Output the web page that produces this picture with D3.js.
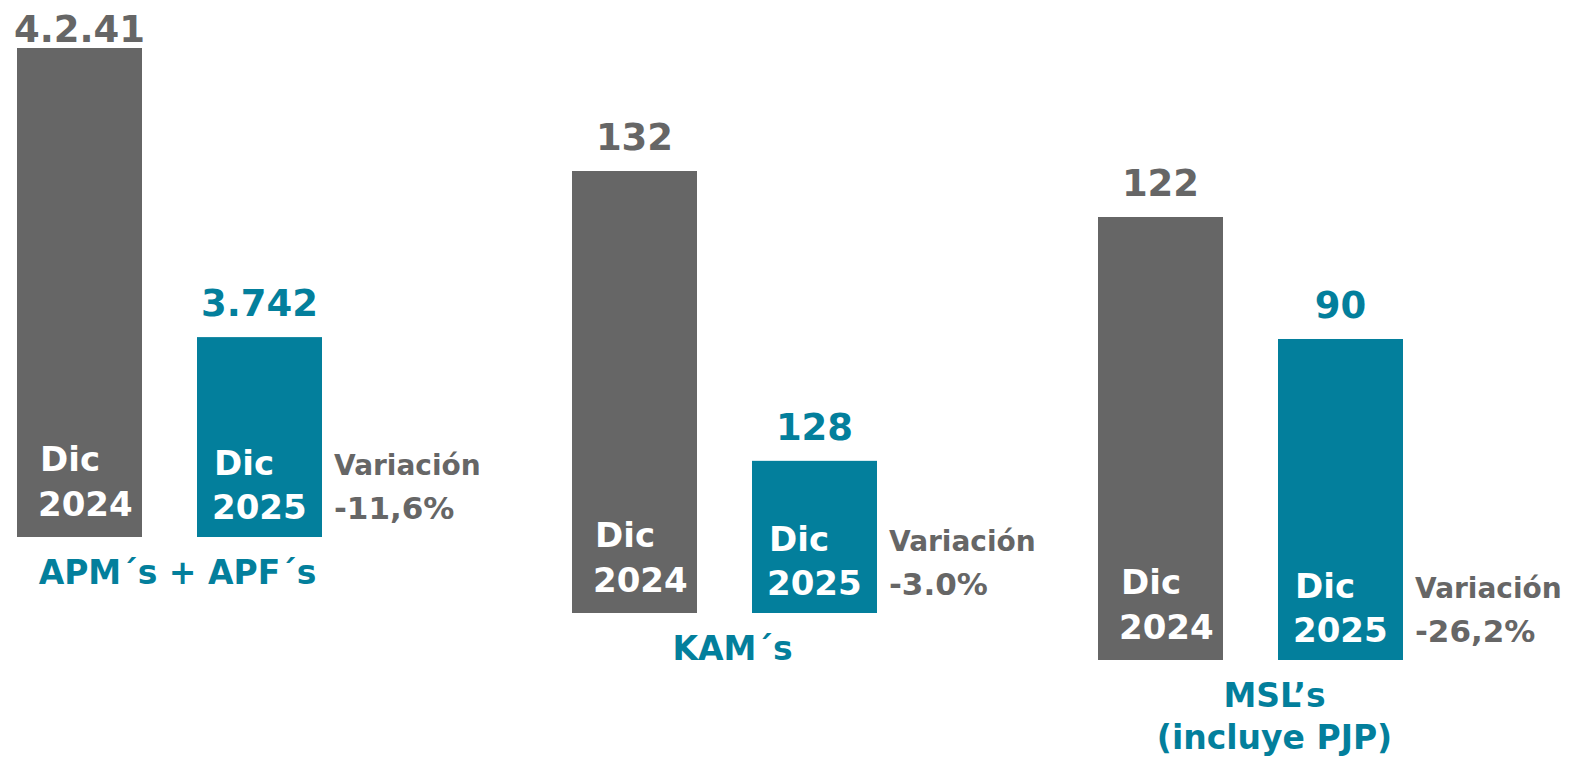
<!DOCTYPE html>
<html>
<head>
<meta charset="utf-8">
<script src="https://cdn.jsdelivr.net/npm/d3@7"></script>
<style>
  html, body { margin: 0; padding: 0; background: #ffffff; }
  svg { display: block; }
  text { font-family: "DejaVu Sans", "Open Sans", sans-serif; font-weight: bold; }
</style>
</head>
<body>
<svg id="chart" width="1571" height="764"></svg>
<script>
// ---- data ----
const categories = ["APM´s + APF´s", "KAM´s", "MSL’s\n(incluye PJP)"];
const periods = ["Dic 2024", "Dic 2025"];
const values2024 = [4241, 132, 122];
const values2025 = [3742, 128, 90];
const valueLabels2024 = ["4.2.41", "132", "122"];
const valueLabels2025 = ["3.742", "128", "90"];
const variationTitle = "Variación";
const variationLabels = ["-11,6%", "-3.0%", "-26,2%"];
// each panel uses its own truncated value axis (domain minimum, in data units)
const axisMinimums = [3397, 125.9, 5.8];

// ---- layout / style ----
const W = 1571, H = 764;
const GRAY = "#666666", TEAL = "#037F9C";
const groupWidth = 305;
const groupLeft = d3.scaleOrdinal().domain(categories).range([17, 572, 1098]);
const groupBase = d3.scaleOrdinal().domain(categories).range([537, 613, 660]);
const groupTop = d3.scaleOrdinal().domain(categories).range([48, 171, 217]);
const color = d3.scaleOrdinal().domain(periods).range([GRAY, TEAL]);

const svg = d3.select("#chart");

categories.forEach((cat, i) => {
  const gx = groupLeft(cat);
  const base = groupBase(cat);
  const x = d3.scaleBand().domain(periods).range([gx, gx + groupWidth])
    .paddingInner(55 / 180).paddingOuter(0);
  const y = d3.scaleLinear().domain([axisMinimums[i], values2024[i]])
    .range([base, groupTop(cat)]);

  const rows = [
    { period: periods[0], value: values2024[i], label: valueLabels2024[i] },
    { period: periods[1], value: values2025[i], label: valueLabels2025[i] }
  ];

  const g = svg.append("g").attr("class", "group");

  g.selectAll("rect").data(rows).join("rect")
    .attr("x", d => x(d.period))
    .attr("y", d => y(d.value))
    .attr("width", x.bandwidth())
    .attr("height", d => base - y(d.value))
    .attr("fill", d => color(d.period));

  // value labels above bars
  g.selectAll("text.value").data(rows).join("text")
    .attr("class", "value")
    .attr("x", d => x(d.period) + x.bandwidth() / 2)
    .attr("y", d => Math.max(y(d.value) - 21, 42))
    .attr("text-anchor", "middle")
    .attr("font-size", 37)
    .attr("fill", d => color(d.period))
    .text(d => d.label);

  // period labels inside bars
  rows.forEach((d, j) => {
    const parts = d.period.split(" ");
    const off = j === 0 ? 23 : 17;
    const t = g.append("text")
      .attr("font-size", 34)
      .attr("fill", "#ffffff");
    t.append("tspan").attr("x", x(d.period) + off)
      .attr("y", base - (j === 0 ? 66 : 62)).text(parts[0]);
    t.append("tspan").attr("x", x(d.period) + off - 2)
      .attr("y", base - (j === 0 ? 21 : 18)).text(parts[1]);
  });

  // variation text
  const vx = x(periods[1]) + x.bandwidth() + 12;
  g.append("text").attr("x", vx).attr("y", base - 62)
    .attr("font-size", 28).attr("fill", GRAY).text(variationTitle);
  g.append("text").attr("x", vx).attr("y", base - 18)
    .attr("font-size", 31).attr("fill", GRAY).text(variationLabels[i]);

  // category label
  const lines = cat.split("\n");
  const ct = g.append("text")
    .attr("text-anchor", "middle")
    .attr("font-size", 33)
    .attr("fill", TEAL);
  lines.forEach((ln, k) => {
    ct.append("tspan")
      .attr("x", gx + groupWidth / 2 + (lines.length > 1 ? 24 : 8))
      .attr("y", base + 47 + k * 42)
      .text(ln);
  });
});
</script>
</body>
</html>
